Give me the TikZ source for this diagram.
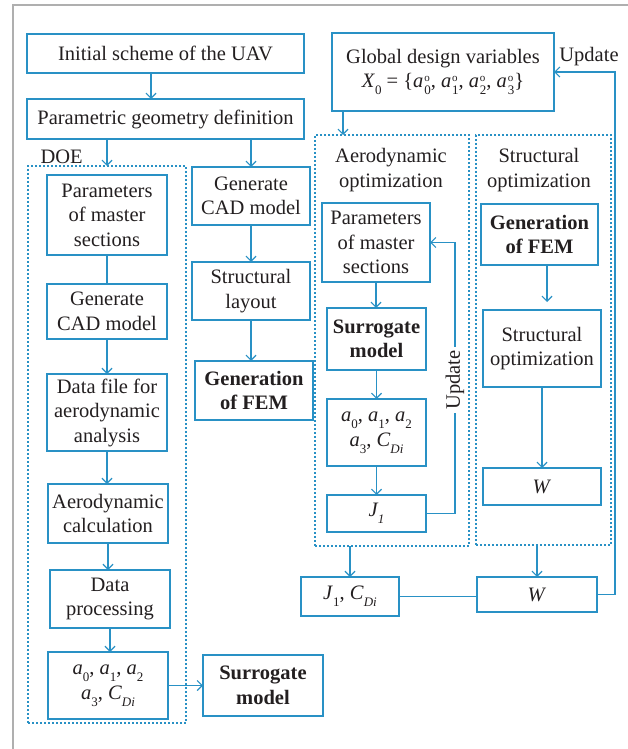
\documentclass[tikz,border=0pt]{standalone}
\usepackage{fontspec}
\setmainfont{Liberation Serif}
\usetikzlibrary{arrows.meta}
\definecolor{bc}{RGB}{41,145,197}
\definecolor{tx}{RGB}{35,31,32}
\definecolor{fr}{RGB}{175,175,175}
\newcommand\sbs[1]{\raisebox{-0.34em}{\fontsize{13}{13}\selectfont #1}}
\newcommand\sps[1]{\raisebox{0.3em}{\fontsize{11}{11}\selectfont #1}}
\newcommand\aoi[1]{\textit{a}\kern0.04em\rlap{\sps{o}}\sbs{#1}}
\newcommand\ai[1]{\textit{a}\sbs{#1}}
\newcommand\cdi{\textit{C}\sbs{\textit{Di}}}
\begin{document}
\begin{tikzpicture}[x=1pt,y=-1pt,
  every node/.style={font=\fontsize{20.5}{24.5}\selectfont, text=tx},
  bold/.style={font=\fontsize{20.5}{24.5}\selectfont\bfseries},
  box/.style={draw=bc, line width=1.5pt, fill=white, align=center, inner sep=0pt, outer sep=0pt},
  grp/.style={draw=bc, line width=1.5pt, dash pattern=on 2pt off 2pt, inner sep=0pt, outer sep=0pt},
  conn/.style={draw=bc, line width=1.2pt},
  arr/.style={conn, -{Straight Barb[length=5pt,width=10pt]}},
]
\useasboundingbox[fill=white] (0,0) rectangle (628,749);
\draw[fr, line width=2pt] (13,749) -- (13,5) -- (628,5);

% group frames
\node[grp, minimum width=158pt, minimum height=557pt] (doe) at (107,444.5) {};
\node[grp, minimum width=154pt, minimum height=411pt] (aero) at (392,340.5) {};
\node[grp, minimum width=135pt, minimum height=410pt] (strc) at (543.5,340) {};

% left part
\node[box, minimum width=277pt, minimum height=39pt] (init) at (165.5,53.5) {Initial scheme of the UAV};
\node[box, minimum width=277pt, minimum height=40pt] (param) at (165.5,119) {Parametric geometry definition};
\node[anchor=base west] (doel) at (37,163) {DOE};
\node[box, minimum width=120pt, minimum height=80pt] (p1) at (107,215) {Parameters\\of master\\sections};
\node[box, minimum width=120pt, minimum height=55pt] (g1) at (107,311.5) {Generate\\CAD model};
\node[box, minimum width=120pt, minimum height=77pt] (d1) at (107,412.5) {Data file for\\aerodynamic\\analysis};
\node[box, minimum width=120pt, minimum height=59pt] (a1) at (108,513.5) {Aerodynamic\\calculation};
\node[box, minimum width=120pt, minimum height=58pt] (dp) at (110,599) {Data\\processing};
\node[box, minimum width=120pt, minimum height=67pt] (av1) at (108,685.5) {\ai{0}, \ai{1}, \ai{2}\\\ai{3}, \cdi};
\node[box, bold, minimum width=120pt, minimum height=61pt] (s1) at (263,685.5) {Surrogate\\model};
\node[box, minimum width=118pt, minimum height=58pt] (g2) at (251,196) {Generate\\CAD model};
\node[box, minimum width=118pt, minimum height=58pt] (sl) at (251,291) {Structural\\layout};
\node[box, bold, minimum width=118pt, minimum height=59pt] (fem1) at (254,390.5) {Generation\\of FEM};

% right part
\node[box, minimum width=222pt, minimum height=78pt] (gdv) at (443,72) {Global design variables\\\textit{X}\sbs{0} = \{\aoi{0}, \aoi{1}, \aoi{2}, \aoi{3}\}};
\node[align=center] (aerol) at (391,170) {Aerodynamic\\optimization};
\node[align=center] (strl) at (539,170) {Structural\\optimization};
\node[box, minimum width=108pt, minimum height=79pt] (p2) at (376,242.5) {Parameters\\of master\\sections};
\node[box, bold, minimum width=99pt, minimum height=62pt] (s2) at (376.5,339) {Surrogate\\model};
\node[box, minimum width=99pt, minimum height=67pt] (av2) at (376.5,432.5) {\ai{0}, \ai{1}, \ai{2}\\\ai{3}, \cdi};
\node[box, minimum width=99pt, minimum height=37pt] (j1) at (376.5,513.5) {\textit{J\sbs{1}}};
\node[box, bold, minimum width=117pt, minimum height=61pt] (fem2) at (539.5,234.5) {Generation\\of FEM};
\node[box, minimum width=118pt, minimum height=77pt] (so) at (542,348.5) {Structural\\optimization};
\node[box, minimum width=118pt, minimum height=37pt] (w1) at (542,486.5) {\textit{W}};
\node[box, minimum width=98pt, minimum height=39pt] (j1c) at (350,596.5) {\textit{J}\sbs{1}, \cdi};
\node[box, minimum width=120pt, minimum height=35pt] (w2) at (537,594.5) {\textit{W}};

% connectors
\coordinate (c1) at (151,0);
\coordinate (c2) at (343,0);
\coordinate (c3) at (455,0);
\coordinate (c4) at (547,0);
\coordinate (c5) at (615,0);
\draw[arr] (init.south -| c1) -- (param.north -| c1);
\draw[arr] (param.south -| doe.north) -- (doe.north);
\draw[arr] (param.south -| g2.north) -- (g2.north);
\draw[conn] (p1.south) -- (g1.north);
\draw[arr] (g1.south) -- (g1.south |- d1.north);
\draw[arr] (d1.south) -- (d1.south |- a1.north);
\draw[arr] (a1.south) -- (a1.south |- dp.north);
\draw[arr] (dp.south) -- (dp.south |- av1.north);
\draw[arr] (av1.east) -- (av1.east -| s1.west);
\draw[arr] (g2.south) -- (g2.south |- sl.north);
\draw[arr] (sl.south) -- (sl.south |- fem1.north);
\draw[arr] (gdv.south -| c2) -- (aero.north -| c2);
\draw[arr] (p2.south) -- (p2.south |- s2.north);
\draw[arr] (s2.south) -- (s2.south |- av2.north);
\draw[arr] (av2.south) -- (av2.south |- j1.north);
\draw[arr] (j1.east) -- (j1.east -| c3) -- (p2.east -| c3) -- (p2.east);
\draw[arr, shorten >=8pt] (fem2.south -| c4) -- (so.north -| c4);
\draw[arr] (so.south) -- (so.south |- w1.north);
\draw[arr] (aero.south -| j1c.north) -- (j1c.north);
\draw[arr] (strc.south -| w2.north) -- (w2.north);
\draw[conn] (j1c.east) -- (j1c.east -| w2.west);
\draw[arr] (w2.east) -- (w2.east -| c5) -- (gdv.east -| c5) -- (gdv.east);

% labels
\node[anchor=base] (upd1) at (589,62) {Update};
\node[rotate=90, fill=white, inner sep=3pt] (upd2) at (455,380) {Update};
\end{tikzpicture}
\end{document}
